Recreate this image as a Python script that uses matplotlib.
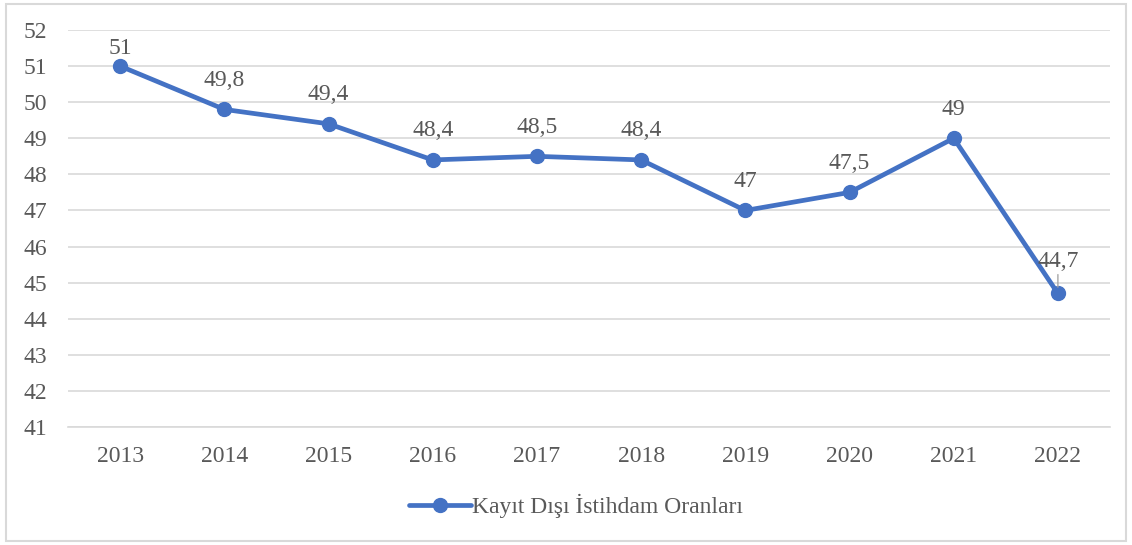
import matplotlib
matplotlib.use("Agg")
import matplotlib.pyplot as plt
from matplotlib.patches import Rectangle

years = ["2013", "2014", "2015", "2016", "2017", "2018", "2019", "2020", "2021", "2022"]
values = [51, 49.8, 49.4, 48.4, 48.5, 48.4, 47, 47.5, 49, 44.7]
labels = ["51", "49,8", "49,4", "48,4", "48,5", "48,4", "47", "47,5", "49", "44,7"]
series_name = "Kayıt Dışı İstihdam Oranları"

plt.rcParams['font.family'] = ['Liberation Serif', 'DejaVu Serif']
txt = "#595959"
blue = "#4472C4"
fs = 17

fig = plt.figure(figsize=(11.32, 5.45), dpi=100)
ax = fig.add_axes([68/1132, 1-427/545, (1110-68)/1132, (427-30)/545])

x = list(range(len(years)))
ax.plot(x, values, color=blue, lw=3.4, marker='o', ms=10, solid_capstyle='round',
        label=series_name, zorder=3)

for i, (v, l) in enumerate(zip(values, labels)):
    if i == len(values) - 1:
        ax.annotate(l, (i, v), xytext=(0, 15.5), textcoords='offset points',
                    ha='center', va='bottom', fontsize=fs, color=txt)
        ax.annotate("", (i, v + 0.1), xytext=(i, v + 0.6),
                    arrowprops=dict(arrowstyle='-', color='#A6A6A6', lw=1))
    elif i == 0:
        ax.annotate(l, (i, v), xytext=(0, 5), textcoords='offset points',
                    ha='center', va='bottom', fontsize=fs, color=txt)
    else:
        ax.annotate(l, (i, v), xytext=(0, 13.5), textcoords='offset points',
                    ha='center', va='bottom', fontsize=fs, color=txt)

ax.set_xlim(-0.5, len(years) - 0.5)
ax.set_ylim(41, 52)
ax.set_yticks(range(41, 53))
ax.set_xticks(x)
ax.set_xticklabels(years)
ax.tick_params(axis='both', length=0, labelsize=fs, colors=txt)
ax.tick_params(axis='y', pad=15)
ax.tick_params(axis='x', pad=14)
ax.grid(axis='y', color='#D9D9D9', lw=1.2)
ax.set_axisbelow(True)
for s in ['top', 'right', 'left']:
    ax.spines[s].set_visible(False)
ax.spines['bottom'].set_color('#D9D9D9')
ax.spines['bottom'].set_linewidth(1.2)

leg = fig.legend(loc='center', bbox_to_anchor=(576/1132, 1-506/545), frameon=False,
                 fontsize=fs, handlelength=2.6, handletextpad=0.05)
for t in leg.get_texts():
    t.set_color(txt)

fig.patches.append(Rectangle((6/1132, 4/545), 1120/1132, 537/545, transform=fig.transFigure,
                             fill=False, edgecolor='#D9D9D9', lw=1.5))

fig.savefig("out.png", dpi=100)
